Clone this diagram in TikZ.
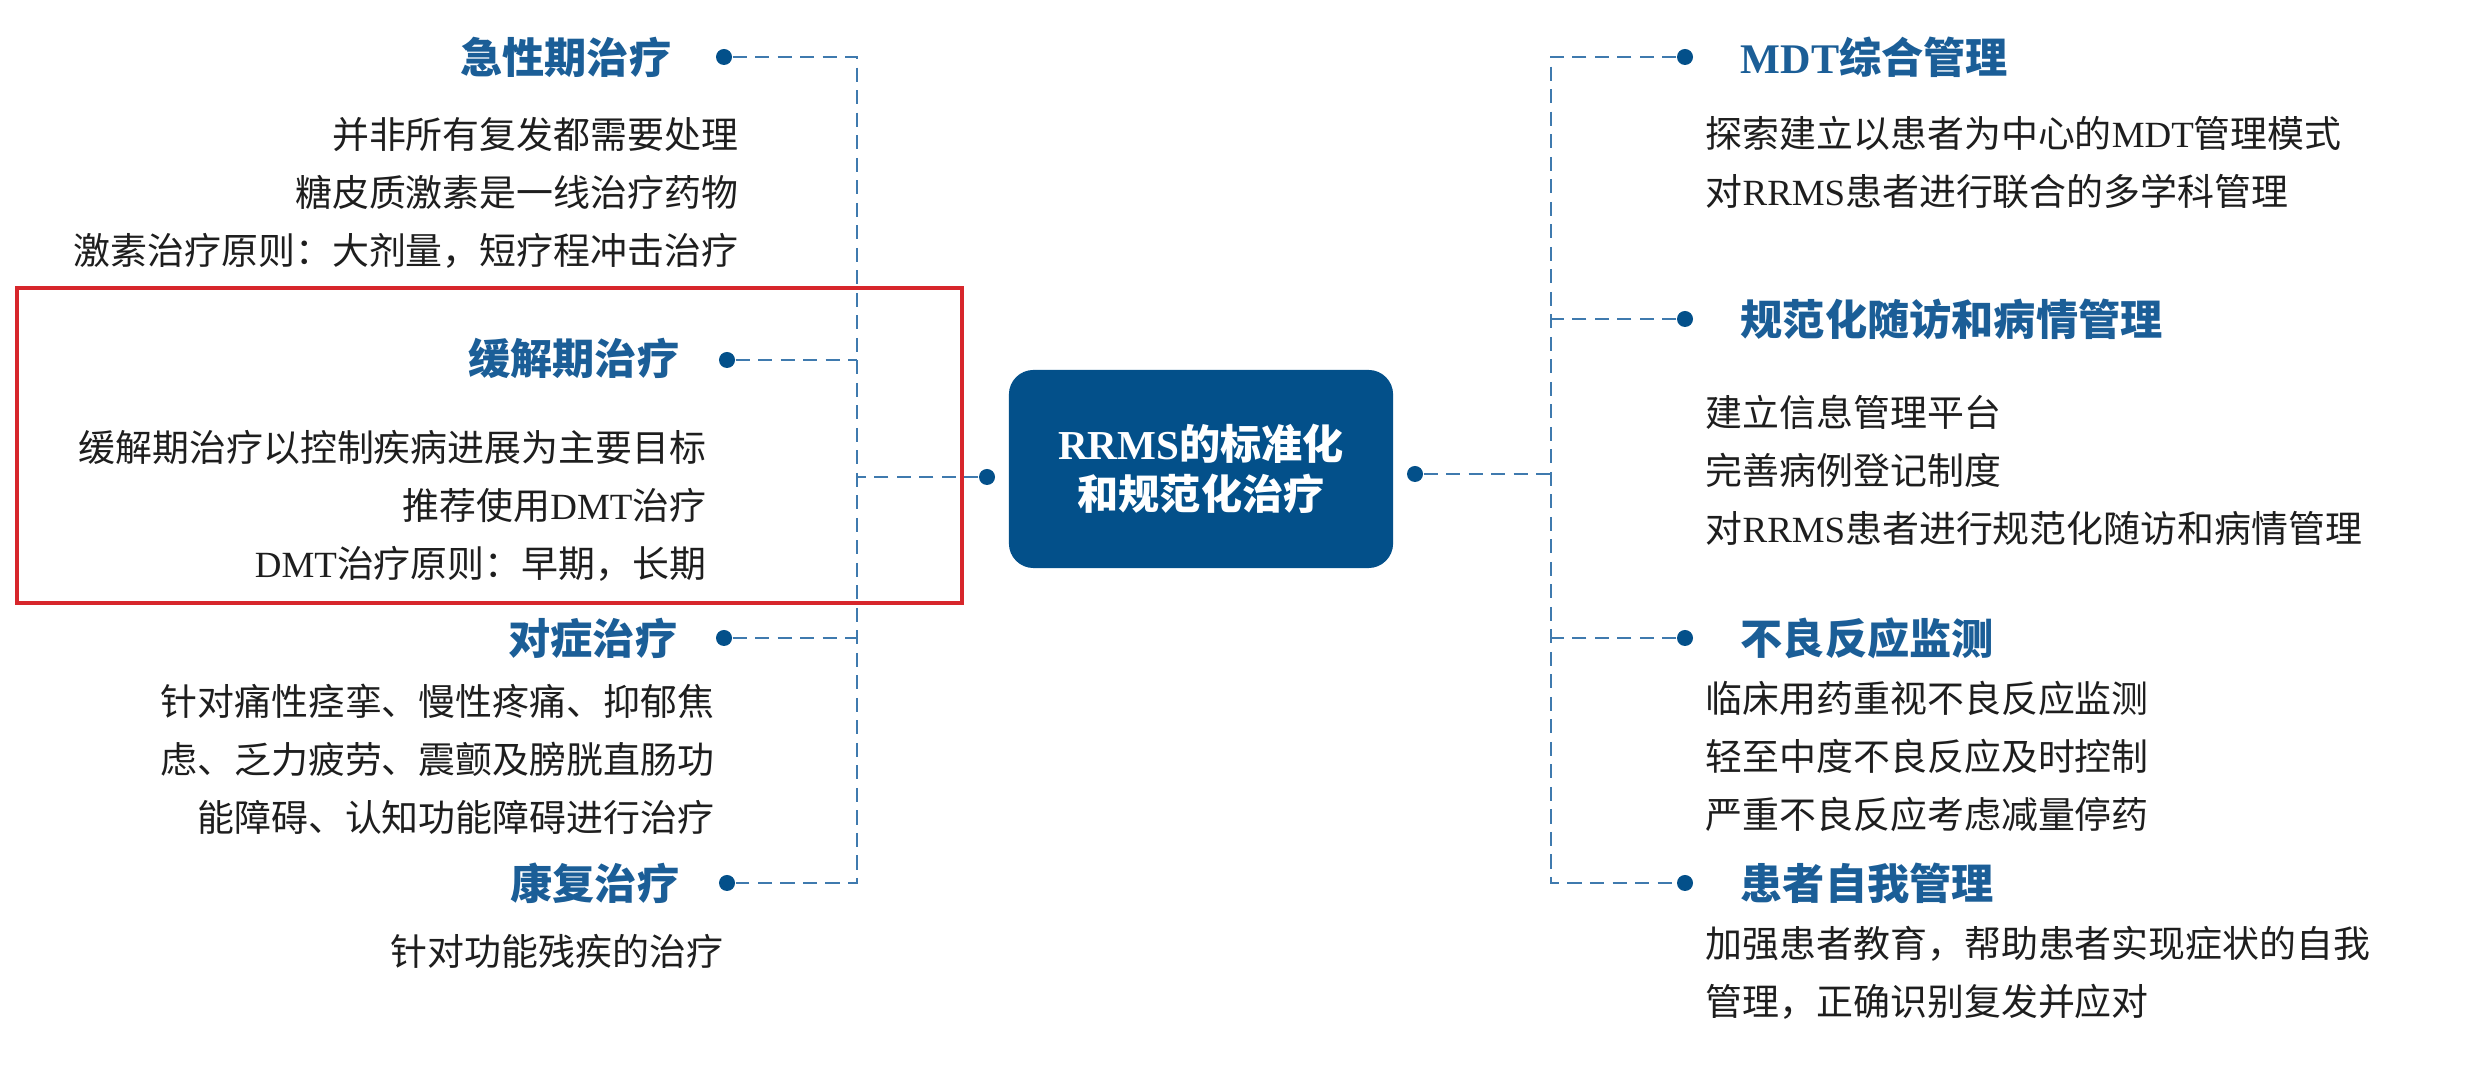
\documentclass[tikz,border=0pt]{standalone}
\usepackage{fontspec}
\setmainfont{Noto Sans CJK SC}
\newfontfamily\latin{Liberation Serif}
\usetikzlibrary{positioning}
\definecolor{navy}{HTML}{03508A}
\definecolor{titleblue}{HTML}{1B5E97}
\definecolor{dashblue}{HTML}{3F7AAE}
\definecolor{textgray}{HTML}{1E1E1E}
\definecolor{markred}{HTML}{D7262B}
\tikzset{root/.style={fill=navy,rounded corners=7pt,minimum width=3.84cm,
  minimum height=1.98cm,align=center,text=white,
  font=\fontsize{11.7}{14.2}\selectfont\bfseries},
  branch/.style={text=titleblue,inner sep=0pt,font=\fontsize{12}{14}\selectfont\bfseries},
  items/.style={text=textgray,inner sep=0pt,font=\fontsize{10.5}{16.5}\selectfont},
  knob/.style={circle,fill=navy,inner sep=0pt,minimum size=1.6mm},
  link/.style={draw=dashblue,line width=0.8pt,dash pattern=on 4pt off 2.4pt}}

\begin{document}
\begin{tikzpicture}[x=0.01cm,y=-0.01cm]
\useasboundingbox (0,0) rectangle (2465,1065);
% centre
\node[root] (rrms) at (1201,469) {{\latin RRMS}的标准化\\和规范化治疗};
\node[knob] (lknob) at (987,477) {};
\node[knob] (rknob) at (1415,474) {};
\coordinate (ltrunk) at (857,477);
\coordinate (rtrunk) at (1551,474);
% left branches
\node[knob] (dacute) at (724,57) {};
\node[branch,anchor=east] (acute) at (672,57) {急性期治疗};
\node[items,anchor=east,align=right] (acutetx) at (739,193)
  {并非所有复发都需要处理\\糖皮质激素是一线治疗药物\\激素治疗原则：大剂量，短疗程冲击治疗};
\node[knob] (dremit) at (727,360) {};
\node[branch,anchor=east] (remit) at (680,358) {缓解期治疗};
\node[items,anchor=east,align=right] (remittx) at (707,506)
  {缓解期治疗以控制疾病进展为主要目标\\推荐使用{\latin DMT}治疗\\{\latin DMT}治疗原则：早期，长期};
\node[knob] (dsymp) at (724,638) {};
\node[branch,anchor=east] (symp) at (678,638) {对症治疗};
\node[items,anchor=east,align=right] (symptx) at (715,759)
  {针对痛性痉挛、慢性疼痛、抑郁焦\\虑、乏力疲劳、震颤及膀胱直肠功\\能障碍、认知功能障碍进行治疗};
\node[knob] (drehab) at (727,883) {};
\node[branch,anchor=east] (rehab) at (680,883) {康复治疗};
\node[items,anchor=east] (rehabtx) at (724,951) {针对功能残疾的治疗};
% right branches
\node[knob] (dmdt) at (1685,57) {};
\node[branch,anchor=west] (mdt) at (1740,57) {{\latin MDT}综合管理};
\node[items,anchor=west,align=left] (mdttx) at (1705,163)
  {探索建立以患者为中心的{\latin MDT}管理模式\\对{\latin RRMS}患者进行联合的多学科管理};
\node[knob] (dfollow) at (1685,319) {};
\node[branch,anchor=west] (follow) at (1740,319) {规范化随访和病情管理};
\node[items,anchor=west,align=left] (followtx) at (1705,470)
  {建立信息管理平台\\完善病例登记制度\\对{\latin RRMS}患者进行规范化随访和病情管理};
\node[knob] (dadverse) at (1685,638) {};
\node[branch,anchor=west] (adverse) at (1740,638) {不良反应监测};
\node[items,anchor=west,align=left] (adversetx) at (1705,756)
  {临床用药重视不良反应监测\\轻至中度不良反应及时控制\\严重不良反应考虑减量停药};
\node[knob] (dself) at (1685,883) {};
\node[branch,anchor=west] (self) at (1740,883) {患者自我管理};
\node[items,anchor=west,align=left] (selftx) at (1705,973)
  {加强患者教育，帮助患者实现症状的自我\\管理，正确识别复发并应对};
% connectors
\draw[link] (lknob) -- (ltrunk);
\draw[link] (dacute) -| (drehab -| ltrunk) -- (drehab);
\draw[link] (dremit) -- (dremit -| ltrunk);
\draw[link] (dsymp) -- (dsymp -| ltrunk);
\draw[link] (rknob) -- (rtrunk);
\draw[link] (dmdt) -| (dself -| rtrunk) -- (dself);
\draw[link] (dfollow) -- (dfollow -| rtrunk);
\draw[link] (dadverse) -- (dadverse -| rtrunk);
% highlight
\draw[markred,line width=0.9pt] (17,288) rectangle (962,603);
\end{tikzpicture}
\end{document}
